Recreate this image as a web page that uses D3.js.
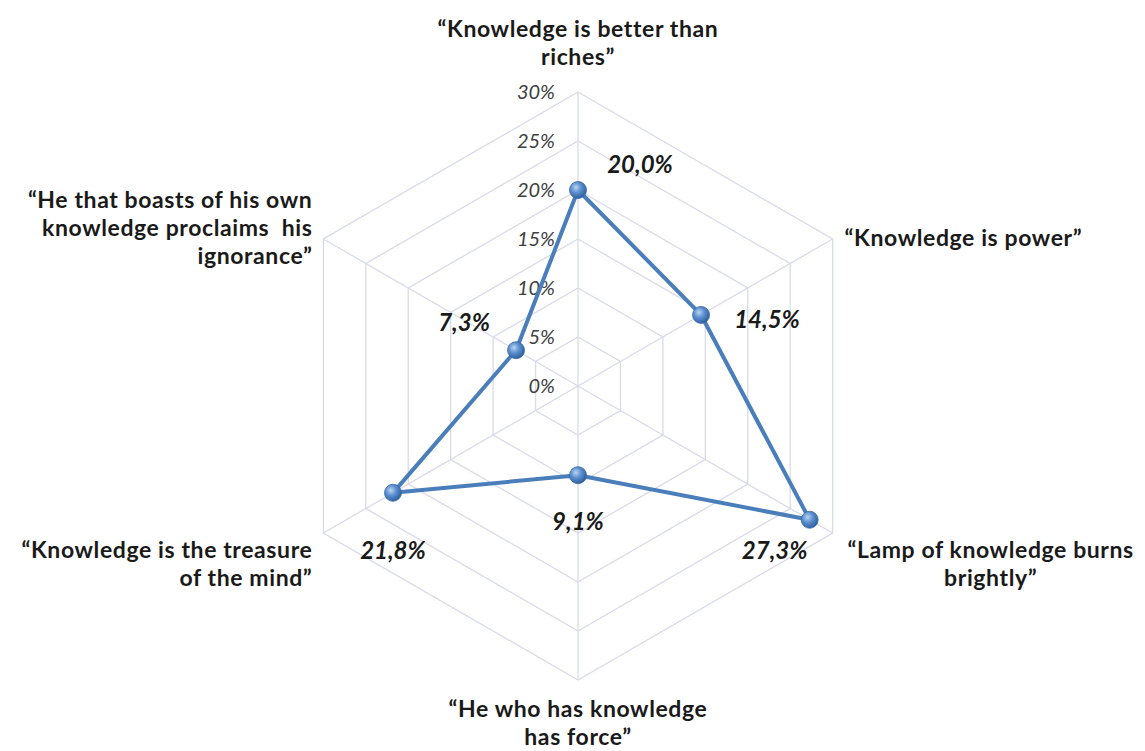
<!DOCTYPE html>
<html>
<head>
<meta charset="utf-8">
<script src="https://cdn.jsdelivr.net/npm/d3@7"></script>
<style>
  html, body { margin: 0; padding: 0; background: #ffffff; }
  svg { display: block; }
</style>
</head>
<body>
<svg id="chart" width="1145" height="751"></svg>
<script>
// Axis captions (one entry per spoke, split into display lines)
const categories = [
  ["“Knowledge is better than", "riches”"],
  ["“Knowledge is power”"],
  ["“Lamp of knowledge burns", "brightly”"],
  ["“He who has knowledge", "has force”"],
  ["“Knowledge is the treasure", "of the mind”"],
  ["“He that boasts of his own", "knowledge proclaims  his", "ignorance”"]
];
// Share of respondents per saying, in percent
const values = [20.0, 14.5, 27.3, 9.1, 21.8, 7.3];
// Radial tick values, in percent
const ticks = [0, 5, 10, 15, 20, 25, 30];

const svg = d3.select("#chart");
const cx = 578, cy = 386, R = 294;
const n = categories.length;

const r = d3.scaleLinear().domain([0, d3.max(ticks)]).range([0, R]);
const angle = i => -Math.PI / 2 + i * 2 * Math.PI / n;
const pt = (i, v) => [cx + r(v) * Math.cos(angle(i)), cy + r(v) * Math.sin(angle(i))];

const fmt = v => v.toFixed(1).replace(".", ",") + "%";
const FONT = "Lato, 'Open Sans', sans-serif";

// Gradient for the spherical markers
const defs = svg.append("defs");
const grad = defs.append("radialGradient").attr("id", "ball")
  .attr("cx", "38%").attr("cy", "35%").attr("r", "70%");
grad.append("stop").attr("offset", "0%").attr("stop-color", "#b9d3f2");
grad.append("stop").attr("offset", "45%").attr("stop-color", "#5b8fd0");
grad.append("stop").attr("offset", "100%").attr("stop-color", "#2b5a97");

// Concentric hexagonal grid
const grid = svg.append("g");
ticks.filter(t => t > 0).forEach(t => {
  grid.append("path")
    .attr("d", d3.line()(d3.range(n).map(i => pt(i, t))) + "Z")
    .attr("fill", "none").attr("stroke", "#d9dbe8").attr("stroke-width", 1.3);
});
// Spokes
d3.range(n).forEach(i => {
  const [x, y] = pt(i, d3.max(ticks));
  grid.append("line").attr("x1", cx).attr("y1", cy).attr("x2", x).attr("y2", y)
    .attr("stroke", "#d9dbe8").attr("stroke-width", 1.3);
});

// Radial tick labels along the top spoke
svg.append("g").selectAll("text").data(ticks).join("text")
  .attr("x", cx - 23)
  .attr("y", d => cy - r(d) + 7)
  .attr("text-anchor", "end")
  .attr("font-family", FONT).attr("font-style", "italic")
  .attr("font-size", 20).attr("fill", "#404040")
  .text(d => d + "%");

// Data polygon
svg.append("path")
  .attr("d", d3.line()(values.map((v, i) => pt(i, v))) + "Z")
  .attr("fill", "none").attr("stroke", "#4a7ebb").attr("stroke-width", 4)
  .attr("stroke-linejoin", "round");

// Markers
svg.append("g").selectAll("circle").data(values).join("circle")
  .attr("cx", (v, i) => pt(i, v)[0])
  .attr("cy", (v, i) => pt(i, v)[1])
  .attr("r", 8.5)
  .attr("fill", "url(#ball)")
  .attr("stroke", "#3a6aa5").attr("stroke-width", 0.8);

// Value labels, offset from each marker
const valueOffset = [[62, -25], [66, 5], [-35, 31], [0, 46], [0, 58], [-52, -28]];
svg.append("g").selectAll("text").data(values).join("text")
  .attr("x", (v, i) => pt(i, v)[0] + valueOffset[i][0])
  .attr("y", (v, i) => pt(i, v)[1] + valueOffset[i][1])
  .attr("dy", "0.35em")
  .attr("text-anchor", "middle")
  .attr("font-family", FONT).attr("font-style", "italic").attr("font-weight", "bold")
  .attr("font-size", 24).attr("fill", "#1a1a1a")
  .text(d => fmt(d));

// Category captions placed around the outer ring
const captionLayout = [
  { anchor: "middle", dx: 0, dy: -55 },
  { anchor: "start", dx: 12, dy: 7 },
  { anchor: "middle", dx: 158, dy: 25 },
  { anchor: "middle", dx: 0, dy: 37 },
  { anchor: "end", dx: -11, dy: 25 },
  { anchor: "end", dx: -11, dy: -31 }
];
const lineH = 28;
const caps = svg.append("g");
categories.forEach((lines, i) => {
  const [vx, vy] = pt(i, d3.max(ticks));
  const L = captionLayout[i];
  const t = caps.append("text")
    .attr("font-family", FONT).attr("font-weight", "bold")
    .attr("font-size", 23).attr("letter-spacing", 0.6).attr("fill", "#1a1a1a")
    .attr("text-anchor", L.anchor)
    .attr("xml:space", "preserve");
  lines.forEach((s, k) => {
    t.append("tspan").attr("x", vx + L.dx).attr("y", vy + L.dy + k * lineH).text(s);
  });
});
</script>
</body>
</html>
